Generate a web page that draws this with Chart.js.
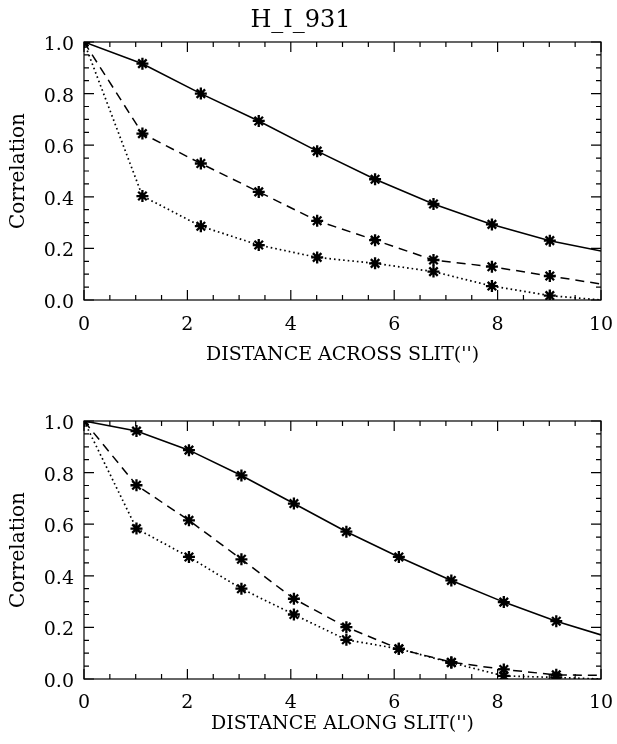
<!DOCTYPE html>
<html>
<head>
<meta charset="utf-8">
<script src="https://cdn.jsdelivr.net/npm/chart.js@4.4.0/dist/chart.umd.min.js"></script>
<style>
  html, body { margin: 0; padding: 0; background: #fff; }
  #wrap { position: relative; width: 617px; height: 744px; }
  canvas { position: absolute; left: 0; }
  #c1 { top: 0; }
  #c2 { top: 372px; }
</style>
</head>
<body>
<div id="wrap">
  <canvas id="c1" width="617" height="372"></canvas>
  <canvas id="c2" width="617" height="372"></canvas>
</div>
<script>
// Offsets (arcsec) and correlation values, distance across the slit
const acrossX      = [0, 1.13, 2.26, 3.38, 4.51, 5.63, 6.76, 7.89, 9.01, 10];
const acrossSolid  = [1.0, 0.916, 0.800, 0.694, 0.577, 0.468, 0.372, 0.293, 0.230, 0.190];
const acrossDashed = [1.0, 0.645, 0.529, 0.419, 0.307, 0.232, 0.155, 0.129, 0.093, 0.062];
const acrossDotted = [1.0, 0.403, 0.286, 0.213, 0.165, 0.142, 0.110, 0.054, 0.017, 0.000];

// Offsets (arcsec) and correlation values, distance along the slit
const alongX      = [0, 1.015, 2.03, 3.045, 4.06, 5.075, 6.09, 7.105, 8.12, 9.135, 10];
const alongSolid  = [1.0, 0.961, 0.887, 0.789, 0.680, 0.571, 0.473, 0.382, 0.298, 0.224, 0.171];
const alongDashed = [1.0, 0.751, 0.615, 0.464, 0.311, 0.201, 0.117, 0.065, 0.037, 0.016, 0.014];
const alongDotted = [1.0, 0.583, 0.473, 0.350, 0.250, 0.152, 0.117, 0.063, 0.012, 0.006, 0.000];

// Axis ticks
const xRange = [0, 10];
const yRange = [0, 1];
const xMajorStep = 2, xMinorStep = 0.5;
const yMajorStep = 0.2, yMinorStep = 0.05;

const titleText = 'H_I_931';
const yTitle = 'Correlation';
const xTitleAcross = "DISTANCE ACROSS SLIT('')";
const xTitleAlong = "DISTANCE ALONG SLIT('')";

const FONT = 'DejaVu Serif';

// Frame with inward major/minor tick marks on all four sides
const frameTicks = {
  id: 'frameTicks',
  afterDatasetsDraw(chart) {
    const { ctx, chartArea: a, scales: { x, y } } = chart;
    ctx.save();
    ctx.strokeStyle = '#000';
    ctx.lineWidth = 1.2;
    ctx.strokeRect(a.left, a.top, a.right - a.left, a.bottom - a.top);
    ctx.beginPath();
    const nx = Math.round((xRange[1] - xRange[0]) / xMinorStep);
    const perX = Math.round(xMajorStep / xMinorStep);
    for (let i = 0; i <= nx; i++) {
      const px = x.getPixelForValue(xRange[0] + i * xMinorStep);
      const len = i % perX === 0 ? 10 : 5;
      ctx.moveTo(px, a.bottom); ctx.lineTo(px, a.bottom - len);
      ctx.moveTo(px, a.top); ctx.lineTo(px, a.top + len);
    }
    const ny = Math.round((yRange[1] - yRange[0]) / yMinorStep);
    const perY = Math.round(yMajorStep / yMinorStep);
    for (let i = 0; i <= ny; i++) {
      const py = y.getPixelForValue(yRange[0] + i * yMinorStep);
      const len = i % perY === 0 ? 10 : 5;
      ctx.moveTo(a.left, py); ctx.lineTo(a.left + len, py);
      ctx.moveTo(a.right, py); ctx.lineTo(a.right - len, py);
    }
    ctx.stroke();
    ctx.restore();
  }
};

const styles = {
  solid:  { borderWidth: 1.6, borderDash: [] },
  dashed: { borderWidth: 1.5, borderDash: [9, 6] },
  dotted: { borderWidth: 1.7, borderDash: [1.6, 3] }
};

function series(xs, ys, style) {
  const n = xs.length;
  return {
    data: xs.map((v, i) => ({ x: v, y: ys[i] })),
    borderColor: '#000',
    backgroundColor: '#000',
    borderWidth: styles[style].borderWidth,
    borderDash: styles[style].borderDash,
    tension: 0,
    fill: false,
    pointStyle: 'star',
    pointRadius: ctx => (ctx.dataIndex === n - 1 ? 0 : 6),
    pointBorderWidth: 2.3,
    pointBorderColor: '#000',
    pointBackgroundColor: '#000'
  };
}

function makeChart(id, xs, solid, dashed, dotted, cfg) {
  return new Chart(document.getElementById(id), {
    type: 'line',
    data: {
      datasets: [
        series(xs, solid, 'solid'),
        series(xs, dashed, 'dashed'),
        series(xs, dotted, 'dotted')
      ]
    },
    options: {
      responsive: false,
      animation: false,
      events: [],
      layout: { padding: { left: 0, right: 16, top: cfg.padTop, bottom: cfg.padBottom } },
      plugins: {
        legend: { display: false },
        tooltip: { enabled: false },
        title: cfg.title ? {
          display: true,
          text: cfg.title,
          color: '#000',
          font: { family: FONT, size: 24, weight: 'normal' },
          padding: { top: 6, bottom: 7.2 }
        } : { display: false }
      },
      scales: {
        x: {
          type: 'linear',
          min: xRange[0], max: xRange[1],
          grid: { display: false, drawTicks: false },
          border: { display: false },
          ticks: {
            stepSize: xMajorStep,
            color: '#000',
            padding: 0,
            maxRotation: 0,
            font: { family: FONT, size: 19, lineHeight: cfg.xTickLine },
            callback: v => String(v)
          },
          title: {
            display: true,
            text: cfg.xTitle,
            color: '#000',
            font: { family: FONT, size: 19 },
            padding: { top: 0, bottom: 0 }
          },
          afterFit: s => { s.height = cfg.xAxisHeight; }
        },
        y: {
          type: 'linear',
          min: yRange[0], max: yRange[1],
          grid: { display: false, drawTicks: false },
          border: { display: false },
          ticks: {
            stepSize: yMajorStep,
            color: '#000',
            padding: 10,
            labelOffset: 3,
            font: { family: FONT, size: 19 },
            callback: v => Number(v).toFixed(1)
          },
          title: {
            display: true,
            text: yTitle,
            color: '#000',
            font: { family: FONT, size: 20 },
            padding: { top: 7, bottom: 0 }
          },
          afterFit: s => { s.width = 84; }
        }
      }
    },
    plugins: [frameTicks]
  });
}

makeChart('c1', acrossX, acrossSolid, acrossDashed, acrossDotted, {
  title: titleText, padTop: 0, padBottom: 5.6,
  xTickLine: '50px', xAxisHeight: 66.4, xTitle: xTitleAcross
});

makeChart('c2', alongX, alongSolid, alongDashed, alongDotted, {
  title: null, padTop: 49, padBottom: 8.6,
  xTickLine: '48px', xAxisHeight: 56.4, xTitle: xTitleAlong
});
</script>
</body>
</html>
